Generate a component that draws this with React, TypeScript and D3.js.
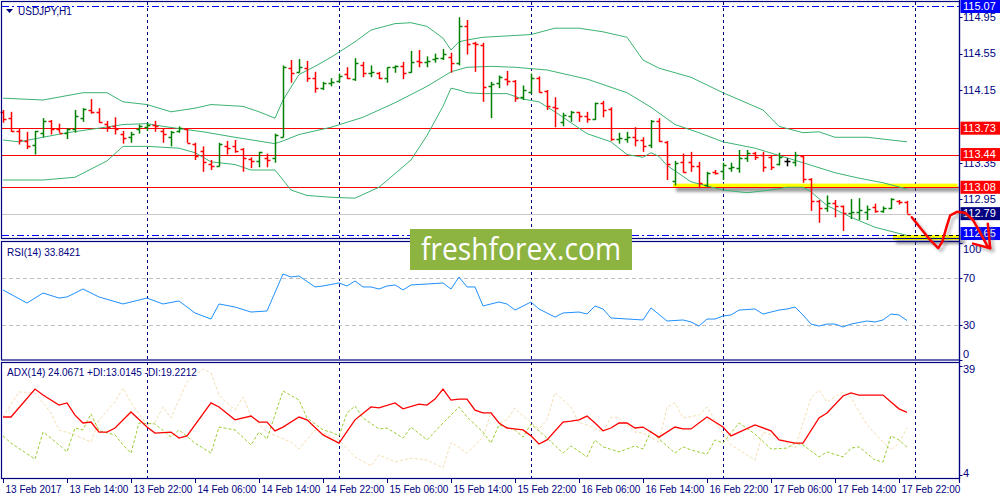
import * as d3 from "d3";

// hourly bars, index 0 = 13 Feb 06:00
const xLabels = [
  "13 Feb 2017", "13 Feb 14:00", "13 Feb 22:00", "14 Feb 06:00", "14 Feb 14:00",
  "14 Feb 22:00", "15 Feb 06:00", "15 Feb 14:00", "15 Feb 22:00", "16 Feb 06:00",
  "16 Feb 14:00", "16 Feb 22:00", "17 Feb 06:00", "17 Feb 14:00", "17 Feb 22:00",
];
const daySeparators = [18, 42, 66, 90, 114];

const opens = [
  113.91, 113.84, 113.70, 113.59, 113.55, 113.68, 113.81, 113.72, 113.68, 113.72,
  113.84, 113.93, 113.91, 113.78, 113.75, 113.67, 113.63, 113.72, 113.74, 113.76,
  113.70, 113.63, 113.70, 113.72, 113.56, 113.48, 113.34, 113.31, 113.53, 113.53,
  113.50, 113.39, 113.37, 113.40, 113.40, 113.63, 114.39, 114.35, 114.39, 114.28,
  114.17, 114.23, 114.25, 114.33, 114.27, 114.42, 114.34, 114.34, 114.28, 114.40,
  114.41, 114.35, 114.47, 114.46, 114.49, 114.50, 114.51, 114.45, 114.85, 114.67,
  114.65, 114.19, 114.23, 114.27, 114.25, 114.07, 114.13, 114.28, 114.14, 113.96,
  113.80, 113.86, 113.91, 113.86, 113.83, 114.01, 113.94, 113.61, 113.61, 113.63,
  113.60, 113.55, 113.81, 113.58, 113.15, 113.36, 113.36, 113.31, 113.11, 113.25,
  113.26, 113.29, 113.29, 113.40, 113.46, 113.43, 113.41, 113.34, 113.37, 113.36,
  113.42, 113.17, 112.93, 112.85, 112.91, 112.87, 112.80, 112.81, 112.81, 112.86,
  112.82, 112.85, 112.93, 112.92,
];
const highs = [
  113.93, 113.91, 113.73, 113.69, 113.70, 113.84, 113.82, 113.78, 113.73, 113.93,
  113.95, 114.05, 113.95, 113.81, 113.85, 113.70, 113.69, 113.77, 113.79, 113.81,
  113.73, 113.70, 113.75, 113.72, 113.57, 113.53, 113.38, 113.57, 113.59, 113.60,
  113.51, 113.41, 113.47, 113.45, 113.67, 114.42, 114.48, 114.49, 114.47, 114.35,
  114.24, 114.28, 114.33, 114.40, 114.50, 114.46, 114.42, 114.35, 114.40, 114.42,
  114.46, 114.58, 114.59, 114.52, 114.55, 114.60, 114.56, 114.95, 114.92, 114.68,
  114.67, 114.24, 114.31, 114.36, 114.26, 114.20, 114.33, 114.30, 114.15, 114.07,
  113.90, 113.92, 113.91, 113.91, 114.01, 114.03, 113.96, 113.68, 113.69, 113.74,
  113.63, 113.82, 113.84, 113.59, 113.37, 113.45, 113.47, 113.36, 113.25, 113.27,
  113.35, 113.35, 113.49, 113.49, 113.47, 113.47, 113.43, 113.46, 113.40, 113.47,
  113.43, 113.18, 112.94, 112.99, 112.94, 112.88, 112.95, 112.96, 112.88, 112.90,
  112.87, 112.96, 112.94, 112.93,
];
const lows = [
  113.79, 113.69, 113.55, 113.50, 113.44, 113.63, 113.66, 113.68, 113.61, 113.68,
  113.80, 113.89, 113.79, 113.69, 113.66, 113.56, 113.57, 113.67, 113.70, 113.69,
  113.57, 113.53, 113.68, 113.57, 113.38, 113.25, 113.27, 113.31, 113.44, 113.46,
  113.25, 113.29, 113.30, 113.30, 113.35, 113.63, 114.23, 114.34, 114.24, 114.12,
  114.15, 114.19, 114.23, 114.27, 114.25, 114.29, 114.29, 114.27, 114.23, 114.34,
  114.27, 114.34, 114.40, 114.40, 114.45, 114.48, 114.34, 114.42, 114.54, 114.35,
  114.02, 113.84, 114.17, 114.20, 114.02, 114.04, 114.11, 114.12, 113.93, 113.74,
  113.75, 113.80, 113.80, 113.79, 113.82, 113.85, 113.59, 113.56, 113.57, 113.53,
  113.47, 113.51, 113.58, 113.16, 113.10, 113.24, 113.25, 113.07, 113.08, 113.22,
  113.16, 113.25, 113.24, 113.36, 113.38, 113.25, 113.27, 113.32, 113.31, 113.31,
  113.13, 112.82, 112.69, 112.81, 112.75, 112.60, 112.73, 112.72, 112.72, 112.80,
  112.80, 112.84, 112.89, 112.79,
];
const closes = [
  113.83, 113.70, 113.60, 113.53, 113.70, 113.81, 113.72, 113.68, 113.72, 113.86,
  113.94, 113.91, 113.80, 113.74, 113.72, 113.62, 113.67, 113.75, 113.77, 113.75,
  113.67, 113.69, 113.73, 113.57, 113.42, 113.36, 113.31, 113.56, 113.51, 113.48,
  113.40, 113.37, 113.47, 113.38, 113.66, 114.40, 114.34, 114.40, 114.28, 114.17,
  114.23, 114.24, 114.30, 114.28, 114.45, 114.34, 114.35, 114.28, 114.40, 114.41,
  114.34, 114.46, 114.46, 114.47, 114.50, 114.55, 114.45, 114.85, 114.66, 114.66,
  114.18, 114.22, 114.29, 114.25, 114.06, 114.15, 114.28, 114.13, 113.97, 113.95,
  113.87, 113.91, 113.86, 113.83, 114.01, 113.93, 113.61, 113.62, 113.63, 113.60,
  113.53, 113.81, 113.59, 113.34, 113.35, 113.25, 113.31, 113.13, 113.24, 113.24,
  113.33, 113.30, 113.40, 113.46, 113.41, 113.30, 113.30, 113.41, 113.37, 113.43,
  113.17, 112.93, 112.85, 112.91, 112.87, 112.80, 112.81, 112.83, 112.84, 112.82,
  112.85, 112.95, 112.92, 112.79,
];

// Bollinger bands [bar, price]
const bbUpper: [number, number][] = [
  [0, 114.06], [5, 114.04], [10, 114.12], [13, 114.12], [15, 114.02], [18, 113.99],
  [21, 113.91], [24, 113.95], [26, 113.99], [30, 113.97], [32, 113.91], [34, 113.84],
  [35, 114.04], [37, 114.32], [39, 114.41], [41, 114.51], [44, 114.68], [46, 114.81],
  [49, 114.88], [51, 114.89], [53, 114.85], [55, 114.72], [56, 114.59], [57, 114.68],
  [58, 114.70], [60, 114.73], [66, 114.76], [69, 114.83], [72, 114.83], [75, 114.79],
  [78, 114.73], [80, 114.48], [82, 114.39], [86, 114.29], [90, 114.12], [95, 113.93],
  [97, 113.75], [100, 113.68], [102, 113.69], [104, 113.63], [108, 113.63], [113, 113.58],
];
const bbMiddle: [number, number][] = [
  [0, 113.60], [2, 113.58], [5, 113.63], [8, 113.68], [12, 113.73], [15, 113.77],
  [18, 113.78], [20, 113.75], [25, 113.69], [29, 113.63], [34, 113.56], [35, 113.59],
  [37, 113.66], [41, 113.74], [45, 113.85], [49, 114.01], [53, 114.19], [56, 114.35],
  [58, 114.40], [61, 114.41], [64, 114.40], [68, 114.37], [73, 114.27], [78, 114.12],
  [81, 113.96], [84, 113.77], [87, 113.68], [90, 113.58], [94, 113.51], [97, 113.43],
  [100, 113.35], [104, 113.24], [107, 113.18], [110, 113.13], [113, 113.06],
];
const bbLower: [number, number][] = [
  [0, 113.16], [5, 113.16], [9, 113.19], [11, 113.28], [13, 113.37], [14, 113.45],
  [15, 113.53], [18, 113.53], [22, 113.51], [24, 113.46], [26, 113.36], [29, 113.33],
  [31, 113.27], [34, 113.27], [35, 113.16], [36, 113.05], [38, 112.99], [41, 112.97],
  [44, 112.96], [47, 113.08], [51, 113.38], [53, 113.65], [55, 113.97], [56, 114.17],
  [57, 114.15], [58, 114.12], [60, 114.11], [63, 114.11], [65, 114.05], [67, 114.02],
  [69, 113.91], [71, 113.79], [73, 113.67], [76, 113.58], [78, 113.44], [80, 113.41],
  [81, 113.46], [82, 113.42], [83, 113.32], [86, 113.14], [90, 113.05], [93, 113.02],
  [96, 113.05], [98, 113.08], [100, 113.08], [101, 113.03], [103, 112.88], [106, 112.75],
  [109, 112.64], [113, 112.55],
];

// RSI(14) [bar, value]
const rsiLine: [number, number][] = [
  [0, 60.0], [3, 48.8], [5, 57.4], [7, 53.1], [8, 54.0], [10, 60.8], [12, 54.0],
  [15, 48.0], [18, 53.1], [20, 48.0], [22, 50.6], [24, 40.3], [26, 35.1], [27, 48.0],
  [29, 45.4], [31, 41.1], [33, 42.0], [35, 73.7], [36, 71.1], [37, 72.0], [39, 62.6],
  [40, 63.4], [42, 66.0], [43, 63.4], [44, 67.7], [45, 62.6], [46, 62.6], [47, 60.8],
  [48, 63.4], [49, 64.3], [50, 60.0], [51, 64.3], [53, 65.1], [55, 66.0], [56, 60.8],
  [57, 71.1], [58, 62.6], [59, 62.6], [60, 46.3], [61, 48.0], [62, 49.7], [63, 48.0],
  [64, 42.8], [66, 49.7], [67, 43.7], [69, 36.8], [70, 40.3], [72, 41.1], [73, 39.4],
  [74, 46.3], [75, 43.7], [76, 36.0], [80, 34.3], [81, 44.6], [83, 33.4], [85, 34.3],
  [86, 32.6], [87, 29.1], [88, 35.1], [89, 35.1], [90, 37.7], [91, 38.6], [92, 42.8],
  [94, 43.7], [95, 39.4], [97, 42.8], [98, 43.7], [99, 45.4], [100, 38.6], [101, 30.8],
  [102, 29.1], [103, 30.8], [104, 30.8], [105, 28.3], [106, 30.8], [108, 33.4],
  [109, 32.6], [110, 34.3], [111, 39.4], [112, 38.6], [113, 33.8],
];

// ADX(14) [bar, value]
const adxLine: [number, number][] = [
  [0, 22.6], [1, 22.6], [4, 31.5], [5, 29.6], [7, 26.4], [8, 27.1], [9, 23.2],
  [10, 20.7], [11, 21.0], [12, 17.8], [13, 17.8], [14, 19.1], [16, 24.2], [18, 19.4],
  [19, 17.5], [21, 17.8], [22, 15.9], [23, 16.6], [26, 27.1], [27, 25.8], [29, 21.7],
  [31, 22.9], [32, 21.0], [33, 21.0], [34, 18.2], [35, 19.4], [37, 22.6], [38, 21.7],
  [40, 16.9], [42, 14.3], [44, 21.7], [46, 25.8], [47, 25.5], [49, 27.1], [50, 25.2],
  [52, 26.7], [53, 26.4], [54, 28.3], [55, 31.5], [56, 28.0], [57, 28.3], [58, 28.3],
  [59, 24.8], [60, 23.9], [61, 23.9], [62, 20.7], [63, 19.1], [65, 18.5], [66, 16.6],
  [67, 14.0], [68, 15.3], [70, 21.0], [71, 21.3], [72, 21.7], [73, 22.9], [74, 20.7],
  [75, 18.2], [76, 19.1], [77, 20.7], [78, 20.7], [79, 19.1], [80, 19.4], [82, 16.2],
  [84, 19.4], [85, 18.8], [86, 18.8], [88, 22.6], [90, 19.4], [91, 16.6], [94, 20.1],
  [96, 18.2], [97, 15.3], [99, 14.3], [100, 14.3], [102, 22.3], [103, 23.9], [105, 29.3],
  [106, 30.3], [107, 29.6], [110, 29.6], [111, 27.4], [112, 25.2], [113, 24.1],
];
const plusDI: [number, number][] = [
  [0, 16.6], [1, 14.3], [4, 9.2], [5, 17.8], [6, 15.9], [8, 11.5], [9, 19.1], [10, 18.5],
  [11, 23.6], [12, 18.2], [14, 16.9], [15, 13.7], [16, 11.1], [17, 20.7], [19, 20.4],
  [21, 16.2], [22, 18.5], [24, 14.3], [26, 11.1], [27, 19.4], [29, 18.5], [31, 13.7],
  [32, 17.8], [33, 15.6], [35, 30.9], [37, 28.0], [38, 22.3], [40, 18.5], [41, 17.8],
  [42, 16.6], [43, 23.9], [44, 26.1], [45, 22.3], [47, 18.8], [48, 19.1], [50, 15.9],
  [51, 19.4], [53, 15.3], [55, 20.7], [57, 25.8], [58, 22.6], [60, 17.8], [61, 14.3],
  [62, 20.1], [64, 18.5], [65, 16.2], [66, 20.4], [68, 15.9], [70, 11.1], [71, 13.4],
  [73, 9.9], [74, 15.3], [75, 13.1], [77, 11.5], [79, 13.4], [80, 12.4], [81, 18.2],
  [82, 15.6], [84, 11.1], [85, 13.1], [86, 12.1], [88, 10.8], [89, 15.3], [90, 14.3],
  [92, 20.7], [94, 17.2], [96, 12.4], [98, 12.7], [99, 14.3], [100, 13.7], [102, 9.9],
  [103, 11.5], [105, 9.9], [106, 12.7], [107, 13.1], [109, 8.9], [110, 8.3], [111, 16.6],
  [112, 15.3], [113, 13.0],
];
const minusDI: [number, number][] = [
  [0, 22.6], [2, 30.6], [4, 30.3], [6, 23.9], [7, 18.5], [9, 16.9], [11, 14.6],
  [12, 21.7], [14, 27.4], [15, 31.8], [16, 27.1], [18, 20.1], [19, 21.0], [20, 25.8],
  [21, 22.3], [23, 33.8], [25, 37.9], [26, 36.6], [27, 29.6], [29, 24.8], [30, 29.0],
  [31, 22.9], [33, 17.8], [36, 14.6], [37, 12.4], [39, 18.5], [42, 15.3], [44, 9.9],
  [46, 7.0], [47, 10.5], [49, 8.3], [51, 9.5], [53, 8.9], [55, 6.4], [56, 14.6],
  [58, 11.1], [60, 16.2], [61, 24.2], [62, 20.7], [63, 21.7], [64, 25.5], [65, 22.9],
  [67, 18.8], [68, 21.7], [69, 30.3], [71, 25.8], [72, 20.7], [73, 20.1], [75, 17.8],
  [76, 22.6], [77, 22.3], [79, 17.8], [80, 17.5], [82, 14.6], [83, 25.8], [84, 27.1],
  [85, 22.3], [87, 23.2], [88, 25.8], [90, 17.2], [91, 13.7], [92, 12.1], [94, 8.9],
  [95, 17.8], [97, 16.2], [98, 14.3], [99, 12.7], [100, 20.7], [101, 28.7], [102, 31.2],
  [103, 27.4], [105, 30.6], [106, 28.7], [108, 20.1], [110, 14.6], [111, 12.1],
  [112, 14.3], [113, 19.2],
];

const redLevels = [113.73, 113.44, 113.08];
const bidPrice = 112.79;
const priceTicks = [114.95, 114.55, 114.15, 113.35, 112.95];
const dashLevels = [115.07, 112.56];
const dashLabels = ["115.07", "112.65"];
const rsiTicks = [100, 70, 30, 0];
const rsiLevels = [70, 30];
const adxTicks = [39, 4];

// hand-drawn arrow, in [bar, price]
const arrowPath: [number, number][] = [
  [113.6, 112.75], [114.6, 112.64], [115.9, 112.5], [116.9, 112.41], [117.4, 112.48],
  [118.0, 112.66], [118.4, 112.77], [119.25, 112.81], [120.25, 112.8], [121.25, 112.72],
  [122.1, 112.59], [123.0, 112.44], [123.4, 112.41],
];
const arrowHead: [number, number][] = [[123.1, 112.68], [123.4, 112.41], [121.25, 112.46]];

const NAVY = "#000080";
const FONT = "'Liberation Sans', Arial, sans-serif";

export default function App() {
  const W = 1000;
  const H = 500;
  const axisX = 959.5;

  const x = d3.scaleLinear().domain([0, 113]).range([3, 907]);
  const yP = d3.scaleLinear().domain([112.5, 115.14]).range([240, 0]);
  const yR = d3.scaleLinear().domain([0, 100]).range([360, 243.3]);
  const yA = d3.scaleLinear().domain([3.5, 39.8]).range([477, 363]);

  const priceLine = d3.line<[number, number]>().x((d) => x(d[0])).y((d) => yP(d[1]));
  const rsiPath = d3.line<[number, number]>().x((d) => x(d[0])).y((d) => yR(d[1]));
  const adxPath = d3.line<[number, number]>().x((d) => x(d[0])).y((d) => yA(d[1]));

  const px = (v: number) => Math.round(v) + 0.5;

  const bars = opens.map((o, i) => ({
    i,
    o,
    h: highs[i],
    l: lows[i],
    c: closes[i],
  }));

  const box = (y: number, label: string, fill: string, key: string) => (
    <g key={key}>
      <rect x={axisX + 1} y={y - 6.5} width={W - axisX} height={13} fill={fill} />
      <text x={963} y={y} dy="0.35em" fontSize={11} fill="#fff" fontFamily={FONT}>
        {label}
      </text>
    </g>
  );

  return (
    <svg
      width={W}
      height={H}
      style={{ position: "absolute", left: 0, top: 0, background: "#fff" }}
      fontFamily={FONT}
    >
      <defs>
        <filter id="blur" x="-20%" y="-50%" width="140%" height="200%">
          <feGaussianBlur stdDeviation="1.8" />
        </filter>
      </defs>
      <rect width={W} height={H} fill="#fff" />

      {/* day separators */}
      {daySeparators.map((d) => (
        <line
          key={d}
          x1={px(x(d))}
          x2={px(x(d))}
          y1={2}
          y2={478}
          stroke={NAVY}
          strokeDasharray="3,3"
        />
      ))}

      {/* main panel levels */}
      <line x1={2} x2={axisX} y1={px(yP(bidPrice))} y2={px(yP(bidPrice))} stroke="#c8c8c8" />
      {redLevels.map((v) => (
        <line key={v} x1={2} x2={axisX} y1={px(yP(v))} y2={px(yP(v))} stroke="#ff0000" />
      ))}
      {dashLevels.map((v) => (
        <line
          key={v}
          x1={2}
          x2={axisX}
          y1={px(yP(v))}
          y2={px(yP(v))}
          stroke="#0000ff"
          strokeDasharray="7,3,2,3"
        />
      ))}

      {/* yellow zones with shadow */}
      <rect
        x={x(83.75) + 3}
        y={yP(113.08) - 0.5}
        width={axisX - x(83.75) - 3}
        height={5}
        fill="#555"
        opacity={0.6}
        filter="url(#blur)"
      />
      <rect
        x={x(83.75)}
        y={yP(113.12)}
        width={axisX - 2 - x(83.75)}
        height={yP(113.08) - yP(113.12)}
        fill="#ffff00"
      />
      <line x1={2} x2={axisX} y1={px(yP(113.08))} y2={px(yP(113.08))} stroke="#ff0000" />
      <rect
        x={x(111.25) + 3}
        y={yP(112.5)}
        width={962 - x(111.25)}
        height={4}
        fill="#555"
        opacity={0.6}
        filter="url(#blur)"
      />
      <rect
        x={x(111.25)}
        y={yP(112.555)}
        width={962 - x(111.25)}
        height={yP(112.5) - yP(112.555)}
        fill="#ffff00"
      />
      <line
        x1={x(111.25)}
        x2={axisX}
        y1={px(yP(112.56))}
        y2={px(yP(112.56))}
        stroke="#000"
        strokeDasharray="4,3"
      />

      {/* Bollinger bands */}
      {[bbUpper, bbMiddle, bbLower].map((b, k) => (
        <path key={k} d={priceLine(b) ?? ""} fill="none" stroke="#3cb371" strokeWidth={1} />
      ))}

      {/* OHLC bars */}
      <g strokeWidth={1.5}>
        {bars.map((b) => {
          const cx = px(x(b.i));
          const col = b.c > b.o ? "#008000" : b.c < b.o ? "#ff0000" : "#000000";
          return (
            <g key={b.i} stroke={col}>
              <line x1={cx} x2={cx} y1={yP(b.h)} y2={yP(b.l)} />
              <line x1={cx - 3} x2={cx} y1={px(yP(b.o))} y2={px(yP(b.o))} />
              <line x1={cx} x2={cx + 3} y1={px(yP(b.c))} y2={px(yP(b.c))} />
            </g>
          );
        })}
      </g>

      {/* RSI panel */}
      {rsiLevels.map((v) => (
        <line
          key={v}
          x1={2}
          x2={axisX}
          y1={px(yR(v))}
          y2={px(yR(v))}
          stroke="#c0c0c0"
          strokeDasharray="4,3"
        />
      ))}
      <path d={rsiPath(rsiLine) ?? ""} fill="none" stroke="#1e90ff" strokeWidth={1} />

      {/* ADX panel */}
      <path
        d={adxPath(minusDI) ?? ""}
        fill="none"
        stroke="#f5deb3"
        strokeWidth={1}
        strokeDasharray="3,2"
      />
      <path
        d={adxPath(plusDI) ?? ""}
        fill="none"
        stroke="#9acd32"
        strokeWidth={1}
        strokeDasharray="3,2"
      />
      <path d={adxPath(adxLine) ?? ""} fill="none" stroke="#ff0000" strokeWidth={1.3} />

      {/* frames */}
      <g fill="none" stroke={NAVY} strokeWidth={1.2}>
        <rect x={1.5} y={1.5} width={axisX - 1.5} height={237} />
        <rect x={1.5} y={241.5} width={axisX - 1.5} height={118.5} />
        <rect x={1.5} y={362.5} width={axisX - 1.5} height={116} />
        <line x1={axisX} x2={axisX} y1={0} y2={483} />
      </g>

      {/* panel captions */}
      <path d="M6,9 L13,9 L9.5,13 Z" fill={NAVY} />
      <text x={18} y={15} fontSize={10} fill={NAVY}>
        USDJPY,H1
      </text>
      <text x={7} y={256} fontSize={10} fill={NAVY}>
        RSI(14) 33.8421
      </text>
      <text x={7} y={376} fontSize={10} fill={NAVY}>
        ADX(14) 24.0671 +DI:13.0145 -DI:19.2212
      </text>

      {/* price axis */}
      <g fontSize={11} fill={NAVY}>
        {priceTicks.map((v) => (
          <g key={v}>
            <line x1={axisX} x2={axisX + 3} y1={px(yP(v))} y2={px(yP(v))} stroke={NAVY} />
            <text x={963} y={yP(v)} dy="0.35em">
              {v.toFixed(2)}
            </text>
          </g>
        ))}
        {rsiTicks.map((v) => (
          <g key={v}>
            <line x1={axisX} x2={axisX + 3} y1={px(yR(v))} y2={px(yR(v))} stroke={NAVY} />
            <text x={963} y={Math.min(354, Math.max(249, yR(v)))} dy="0.35em">
              {v}
            </text>
          </g>
        ))}
        {adxTicks.map((v) => (
          <g key={v}>
            <line x1={axisX} x2={axisX + 3} y1={px(yA(v))} y2={px(yA(v))} stroke={NAVY} />
            <text x={963} y={Math.min(473, Math.max(369, yA(v)))} dy="0.35em">
              {v}
            </text>
          </g>
        ))}
      </g>
      {box(Math.max(6.5, yP(dashLevels[0])), dashLabels[0], "#0000ff", "top")}
      {redLevels.map((v) => box(yP(v), v.toFixed(2), "#ff0000", `r${v}`))}
      {box(yP(bidPrice), bidPrice.toFixed(2), NAVY, "bid")}
      {box(yP(dashLevels[1]) - 1, dashLabels[1], "#0000ff", "bot")}

      {/* time axis */}
      <g fontSize={10} fill={NAVY}>
        {xLabels.map((t, k) => {
          const tx = px(x(k * 8));
          return (
            <g key={t}>
              <line x1={tx} x2={tx} y1={478} y2={483} stroke={NAVY} />
              <text x={tx + 2} y={493}>
                {t}
              </text>
            </g>
          );
        })}
      </g>

      {/* watermark */}
      <rect x={410} y={229} width={222} height={41} fill="#8db441" />
      <text
        x={421}
        y={260}
        fontSize={31}
        fill="#ffffff"
        fontFamily="'Open Sans', 'Noto Sans', sans-serif"
        textLength={200}
        lengthAdjust="spacingAndGlyphs"
      >
        freshforex.com
      </text>

      {/* drawn arrow */}
      <g fill="none" strokeLinecap="round" strokeLinejoin="round">
        <g transform="translate(3,3)" stroke="#777" strokeWidth={2.5} opacity={0.5} filter="url(#blur)">
          <path d={priceLine(arrowPath) ?? ""} />
          <path d={priceLine(arrowHead) ?? ""} />
        </g>
        <path d={priceLine(arrowPath) ?? ""} stroke="#ff0000" strokeWidth={2.5} />
        <path d={priceLine(arrowHead) ?? ""} stroke="#ff0000" strokeWidth={2.5} />
      </g>
    </svg>
  );
}
